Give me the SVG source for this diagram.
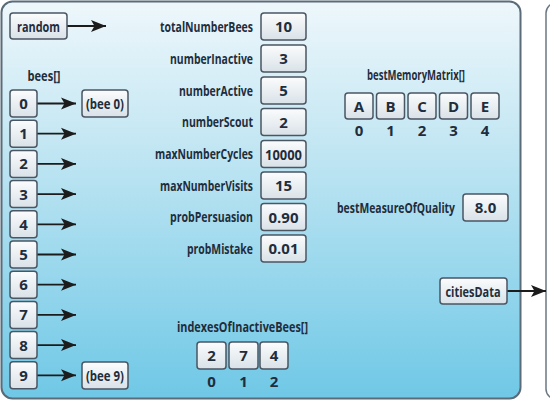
<svg xmlns="http://www.w3.org/2000/svg" width="550" height="403" viewBox="0 0 550 403">
<defs>
<linearGradient id="bg" x1="0" y1="0" x2="0" y2="1">
<stop offset="0" stop-color="#eef7fb"/>
<stop offset="0.35" stop-color="#c4e7f3"/>
<stop offset="1" stop-color="#6fc8e6"/>
</linearGradient>
<linearGradient id="box" x1="0" y1="0" x2="0" y2="1">
<stop offset="0" stop-color="#fbfcfd"/>
<stop offset="1" stop-color="#d9e2e8"/>
</linearGradient>
<marker id="arr" markerUnits="userSpaceOnUse" markerWidth="16" markerHeight="13" refX="15" refY="6.5" orient="auto">
<path d="M0,0.5 L15,6.5 L0,12.5 L3.5,6.5 Z" fill="#1c1c1c"/>
</marker>
</defs>
<style>
.b{fill:url(#box);stroke:#4a5663;stroke-width:1.5}
.t{font-family:"Open Sans","Liberation Sans",sans-serif;font-weight:700;font-size:15px;fill:#1f2d3c}
.s{font-size:11px}
.c{stroke:#1c1c1c;stroke-width:1.8;fill:none;marker-end:url(#arr)}
</style>
<rect x="546" y="3" width="20" height="396" rx="10" fill="#ffffff" stroke="#6a7884" stroke-width="1.5"/>
<rect x="1.5" y="1.5" width="519" height="397" rx="11" fill="url(#bg)" stroke="#5b6b78" stroke-width="2"/>

<g id="connectors">
<line class="c" x1="67" y1="26" x2="106" y2="26"/>
<line class="c" x1="37" y1="103.5" x2="76" y2="103.5"/>
<line class="c" x1="37" y1="133.7" x2="76" y2="133.7"/>
<line class="c" x1="37" y1="163.9" x2="76" y2="163.9"/>
<line class="c" x1="37" y1="194.1" x2="76" y2="194.1"/>
<line class="c" x1="37" y1="224.3" x2="76" y2="224.3"/>
<line class="c" x1="37" y1="254.5" x2="76" y2="254.5"/>
<line class="c" x1="37" y1="284.7" x2="76" y2="284.7"/>
<line class="c" x1="37" y1="314.9" x2="76" y2="314.9"/>
<line class="c" x1="37" y1="345.1" x2="76" y2="345.1"/>
<line class="c" x1="37" y1="375.3" x2="76" y2="375.3"/>
<line class="c" x1="507" y1="291" x2="546" y2="291"/>
</g>

<g id="random"><rect class="b" x="10" y="13" width="57" height="26" rx="3"/><text class="t" x="17" y="31.5" textLength="43" lengthAdjust="spacingAndGlyphs">random</text></g>

<g id="bees">
<text class="t" x="27.5" y="81" textLength="33" lengthAdjust="spacingAndGlyphs">bees[]</text>
<rect class="b" x="10" y="90" width="27" height="27" rx="3"/><text class="t" text-anchor="middle" x="23.5" y="109">0</text>
<rect class="b" x="10" y="120.2" width="27" height="27" rx="3"/><text class="t" text-anchor="middle" x="23.5" y="139.2">1</text>
<rect class="b" x="10" y="150.4" width="27" height="27" rx="3"/><text class="t" text-anchor="middle" x="23.5" y="169.4">2</text>
<rect class="b" x="10" y="180.6" width="27" height="27" rx="3"/><text class="t" text-anchor="middle" x="23.5" y="199.6">3</text>
<rect class="b" x="10" y="210.8" width="27" height="27" rx="3"/><text class="t" text-anchor="middle" x="23.5" y="229.8">4</text>
<rect class="b" x="10" y="241" width="27" height="27" rx="3"/><text class="t" text-anchor="middle" x="23.5" y="260">5</text>
<rect class="b" x="10" y="271.2" width="27" height="27" rx="3"/><text class="t" text-anchor="middle" x="23.5" y="290.2">6</text>
<rect class="b" x="10" y="301.4" width="27" height="27" rx="3"/><text class="t" text-anchor="middle" x="23.5" y="320.4">7</text>
<rect class="b" x="10" y="331.6" width="27" height="27" rx="3"/><text class="t" text-anchor="middle" x="23.5" y="350.6">8</text>
<rect class="b" x="10" y="361.8" width="27" height="27" rx="3"/><text class="t" text-anchor="middle" x="23.5" y="380.8">9</text>
</g>

<g id="bee0"><rect class="b" x="82" y="90" width="46" height="27" rx="3"/><text class="t" x="86" y="109" textLength="38" lengthAdjust="spacingAndGlyphs">(bee 0)</text></g>
<g id="bee9"><rect class="b" x="82" y="362" width="46" height="27" rx="3"/><text class="t" x="86" y="381" textLength="38" lengthAdjust="spacingAndGlyphs">(bee 9)</text></g>

<g id="totalNumberBees"><text class="t s" x="160" y="32" transform="translate(0,32) scale(1,1.3636) translate(0,-32)" textLength="93" lengthAdjust="spacingAndGlyphs">totalNumberBees</text><rect class="b" x="261" y="13" width="45" height="27" rx="3"/><text class="t" text-anchor="middle" x="283.5" y="32">10</text></g>
<g id="numberInactive"><text class="t s" x="170" y="64" transform="translate(0,64) scale(1,1.3636) translate(0,-64)" textLength="83" lengthAdjust="spacingAndGlyphs">numberInactive</text><rect class="b" x="261" y="45" width="45" height="27" rx="3"/><text class="t" text-anchor="middle" x="283.5" y="64">3</text></g>
<g id="numberActive"><text class="t s" x="179" y="96" transform="translate(0,96) scale(1,1.3636) translate(0,-96)" textLength="74" lengthAdjust="spacingAndGlyphs">numberActive</text><rect class="b" x="261" y="77" width="45" height="27" rx="3"/><text class="t" text-anchor="middle" x="283.5" y="96">5</text></g>
<g id="numberScout"><text class="t s" x="182" y="127.5" transform="translate(0,127.5) scale(1,1.3636) translate(0,-127.5)" textLength="71" lengthAdjust="spacingAndGlyphs">numberScout</text><rect class="b" x="261" y="108.5" width="45" height="27" rx="3"/><text class="t" text-anchor="middle" x="283.5" y="127.5">2</text></g>
<g id="maxNumberCycles"><text class="t s" x="155" y="159.5" transform="translate(0,159.5) scale(1,1.3636) translate(0,-159.5)" textLength="98" lengthAdjust="spacingAndGlyphs">maxNumberCycles</text><rect class="b" x="261" y="140.5" width="45" height="27" rx="3"/><text class="t" x="265" y="159.5" textLength="37" lengthAdjust="spacingAndGlyphs">10000</text></g>
<g id="maxNumberVisits"><text class="t s" x="160" y="191" transform="translate(0,191) scale(1,1.3636) translate(0,-191)" textLength="93" lengthAdjust="spacingAndGlyphs">maxNumberVisits</text><rect class="b" x="261" y="172" width="45" height="27" rx="3"/><text class="t" text-anchor="middle" x="283.5" y="191">15</text></g>
<g id="probPersuasion"><text class="t s" x="170" y="222.5" transform="translate(0,222.5) scale(1,1.3636) translate(0,-222.5)" textLength="83" lengthAdjust="spacingAndGlyphs">probPersuasion</text><rect class="b" x="261" y="203.5" width="45" height="27" rx="3"/><text class="t" x="268.5" y="222.5" textLength="30" lengthAdjust="spacingAndGlyphs">0.90</text></g>
<g id="probMistake"><text class="t s" x="187" y="254" transform="translate(0,254) scale(1,1.3636) translate(0,-254)" textLength="66" lengthAdjust="spacingAndGlyphs">probMistake</text><rect class="b" x="261" y="235" width="45" height="27" rx="3"/><text class="t" x="268.5" y="254" textLength="30" lengthAdjust="spacingAndGlyphs">0.01</text></g>

<g id="bestMemoryMatrix">
<text class="t" x="367" y="80" textLength="98" lengthAdjust="spacingAndGlyphs">bestMemoryMatrix[]</text>
<rect class="b" x="345" y="93" width="28" height="26" rx="3"/><text class="t" text-anchor="middle" x="359" y="111.5">A</text>
<rect class="b" x="376.5" y="93" width="28" height="26" rx="3"/><text class="t" text-anchor="middle" x="390.5" y="111.5">B</text>
<rect class="b" x="408" y="93" width="28" height="26" rx="3"/><text class="t" text-anchor="middle" x="422" y="111.5">C</text>
<rect class="b" x="439.5" y="93" width="28" height="26" rx="3"/><text class="t" text-anchor="middle" x="453.5" y="111.5">D</text>
<rect class="b" x="471" y="93" width="28" height="26" rx="3"/><text class="t" text-anchor="middle" x="485" y="111.5">E</text>
<text class="t" text-anchor="middle" x="359" y="135.5">0</text><text class="t" text-anchor="middle" x="390.5" y="135.5">1</text><text class="t" text-anchor="middle" x="422" y="135.5">2</text><text class="t" text-anchor="middle" x="453.5" y="135.5">3</text><text class="t" text-anchor="middle" x="485" y="135.5">4</text>
</g>

<g id="bestMeasureOfQuality"><text class="t s" x="337" y="213" transform="translate(0,213) scale(1,1.3636) translate(0,-213)" textLength="118" lengthAdjust="spacingAndGlyphs">bestMeasureOfQuality</text><rect class="b" x="463" y="194" width="45" height="27" rx="3"/><text class="t" text-anchor="middle" x="485.5" y="213">8.0</text></g>

<g id="citiesData"><rect class="b" x="440" y="278" width="67" height="26" rx="3"/><text class="t" x="445.5" y="296.5" textLength="55" lengthAdjust="spacingAndGlyphs">citiesData</text></g>

<g id="indexesOfInactiveBees">
<text class="t" x="177" y="332" textLength="131" lengthAdjust="spacingAndGlyphs">indexesOfInactiveBees[]</text>
<rect class="b" x="197" y="342" width="29" height="27" rx="3"/><text class="t" text-anchor="middle" x="211.5" y="361">2</text>
<rect class="b" x="229" y="342" width="29" height="27" rx="3"/><text class="t" text-anchor="middle" x="243.5" y="361">7</text>
<rect class="b" x="260" y="342" width="28" height="27" rx="3"/><text class="t" text-anchor="middle" x="274" y="361">4</text>
<text class="t" text-anchor="middle" x="211.5" y="386.5">0</text><text class="t" text-anchor="middle" x="243.5" y="386.5">1</text><text class="t" text-anchor="middle" x="274" y="386.5">2</text>
</g>
</svg>
